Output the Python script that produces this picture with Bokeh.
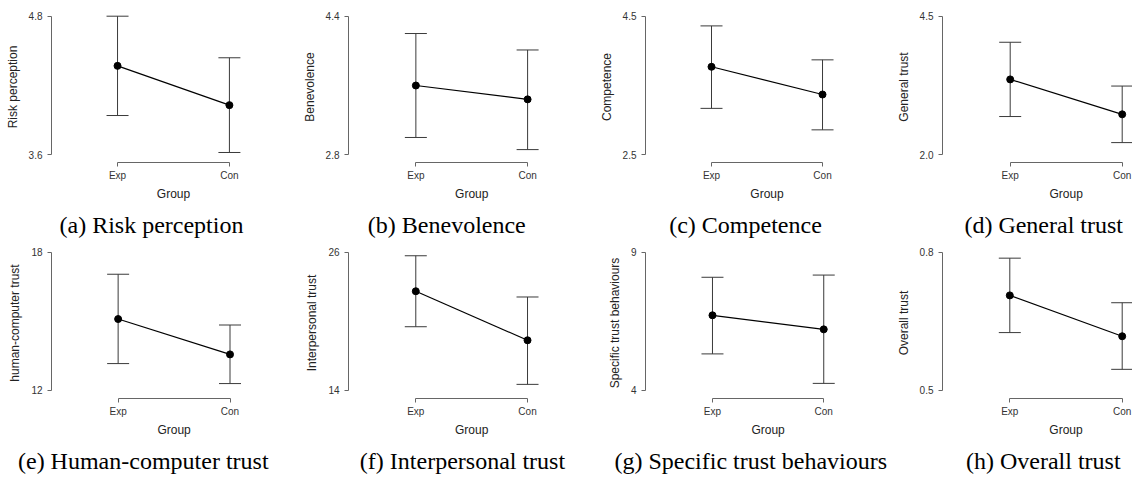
from bokeh.plotting import figure
from bokeh.layouts import gridplot
from bokeh.models import (ColumnDataSource, Whisker, TeeHead, FixedTicker,
                          Range1d, LinearAxis)
from bokeh.embed import file_html
from bokeh.resources import INLINE

# ---------------- data ----------------
groups = ["Exp", "Con"]
x_title = "Group"
measures = ["Risk perception", "Benevolence", "Competence", "General trust",
            "human-computer trust", "Interpersonal trust",
            "Specific trust behaviours", "Overall trust"]
captions = ["(a) Risk perception", "(b) Benevolence", "(c) Competence",
            "(d) General trust", "(e) Human-computer trust",
            "(f) Interpersonal trust", "(g) Specific trust behaviours",
            "(h) Overall trust"]
axis_min = [3.6, 2.8, 2.5, 2.0, 12, 14, 4, 0.5]
axis_max = [4.8, 4.4, 4.5, 4.5, 18, 26, 9, 0.8]
y_tick_labels = [["3.6", "4.8"], ["2.8", "4.4"], ["2.5", "4.5"], ["2.0", "4.5"],
                 ["12", "18"], ["14", "26"], ["4", "9"], ["0.5", "0.8"]]
mean_exp = [4.37, 3.60, 3.77, 3.36, 15.09, 22.60, 6.71, 0.706]
mean_con = [4.03, 3.44, 3.37, 2.73, 13.55, 18.33, 6.20, 0.617]
upper_exp = [4.80, 4.20, 4.36, 4.03, 17.04, 25.69, 8.09, 0.787]
lower_exp = [3.94, 3.00, 3.17, 2.69, 13.15, 19.51, 5.31, 0.625]
upper_con = [4.44, 4.01, 3.87, 3.24, 14.83, 22.10, 8.17, 0.690]
lower_con = [3.62, 2.86, 2.86, 2.22, 12.28, 14.49, 4.24, 0.545]

# ---------------- layout (pixels, local to each figure) ----------------
col_widths = [283, 283, 327, 239]
row_heights = [240, 236]
axis_px = [51, 65, 79, 49, 49, 62, 70, 49]
exp_px = [117.7, 132.7, 146.0, 116.7, 116.3, 130.3, 140.0, 116.3]
con_px = [230.7, 245.0, 258.7, 228.7, 229.3, 243.7, 256.3, 228.7]
caption_center_px = [152, 163.8, 180.5, 150.2, 141.7, 180.5, 180.0, 149.8]
# frame top, tick top, tick bottom, frame bottom
row_geom = [(11, 15.7, 154.3, 162), (7, 11.7, 149.5, 158)]
caption_standoff = [8, 8]
group_standoff = 3

AX_COL = "#666666"
BAR_COL = "#3a3a3a"
SANS = "Liberation Sans"
SERIF = "Liberation Serif"

figs = []
for i in range(8):
    r, c = divmod(i, 4)
    W = col_widths[c]
    H = row_heights[r]
    ft, tt, tb, fb = row_geom[r]
    L = axis_px[i]
    R = min(round(con_px[i] + 22), W)
    ppx = con_px[i] - exp_px[i]
    xs = -(exp_px[i] - L) / ppx
    xe = (len(groups) - 1) + (R - con_px[i]) / ppx
    lo, hi = axis_min[i], axis_max[i]
    ppy = (tb - tt) / (hi - lo)
    ys = lo - (fb - tb) / ppy
    ye = hi + (tt - ft) / ppy

    p = figure(width=W, height=H,
               x_range=Range1d(xs, xe), y_range=Range1d(ys, ye),
               min_border_left=L, min_border_right=W - R,
               min_border_top=ft, min_border_bottom=H - fb,
               output_backend="svg", toolbar_location=None)
    p.outline_line_color = None
    p.xgrid.visible = False
    p.ygrid.visible = False
    p.background_fill_color = "white"
    p.border_fill_color = "white"

    xs_idx = list(range(len(groups)))
    src = ColumnDataSource(dict(
        x=xs_idx,
        mean=[mean_exp[i], mean_con[i]],
        upper=[upper_exp[i], upper_con[i]],
        lower=[lower_exp[i], lower_con[i]],
    ))

    w = Whisker(source=src, base="x", upper="upper", lower="lower",
                line_color=BAR_COL, line_width=1,
                upper_head=TeeHead(size=22, line_color=BAR_COL, line_width=1),
                lower_head=TeeHead(size=22, line_color=BAR_COL, line_width=1))
    p.add_layout(w)
    p.line("x", "mean", source=src, line_color="black", line_width=1.2)
    p.scatter("x", "mean", source=src, size=7, fill_color="black",
              line_color="black")

    # main axes
    xa = p.xaxis[0]
    xa.bounds = (0, len(groups) - 1)
    xa.ticker = FixedTicker(ticks=xs_idx)
    xa.major_label_overrides = {k: g for k, g in zip(xs_idx, groups)}
    xa.major_label_standoff = 3

    ya = p.yaxis[0]
    ya.bounds = (lo, hi)
    ya.ticker = FixedTicker(ticks=[lo, hi])
    ya.major_label_overrides = {lo: y_tick_labels[i][0], hi: y_tick_labels[i][1]}
    ya.axis_label = measures[i]
    ya.major_label_standoff = 5
    ya.axis_label_standoff = 6
    ya.axis_label_text_font = SANS
    ya.axis_label_text_font_size = "12px"
    ya.axis_label_text_font_style = "normal"
    ya.axis_label_text_color = "#222222"

    for ax in (xa, ya):
        ax.axis_line_color = AX_COL
        ax.axis_line_width = 1
        ax.major_tick_line_color = AX_COL
        ax.major_tick_out = 4
        ax.major_tick_in = 0
        ax.minor_tick_line_color = None
        ax.major_label_text_font = SANS
        ax.major_label_text_font_size = "10px"
        ax.major_label_text_color = "#333333"

    # x-axis title, centred on the two groups
    mid = (len(groups) - 1) / 2
    ga = LinearAxis(ticker=FixedTicker(ticks=[mid]),
                    major_label_overrides={mid: x_title},
                    axis_line_color=None, major_tick_line_color=None,
                    minor_tick_line_color=None, major_tick_out=0,
                    major_tick_in=0, major_label_standoff=group_standoff,
                    major_label_text_font=SANS,
                    major_label_text_font_size="12px",
                    major_label_text_color="#222222")
    p.add_layout(ga, "below")

    # sub-figure caption
    cpos = round((caption_center_px[i] - exp_px[i]) / ppx, 4)
    ca = LinearAxis(ticker=FixedTicker(ticks=[cpos]),
                    major_label_overrides={cpos: captions[i]},
                    axis_line_color=None, major_tick_line_color=None,
                    minor_tick_line_color=None, major_tick_out=0,
                    major_tick_in=0, major_label_standoff=caption_standoff[r],
                    major_label_text_font=SERIF,
                    major_label_text_font_size="24px",
                    major_label_text_color="black")
    p.add_layout(ca, "below")
    figs.append(p)

grid = gridplot([figs[0:4], figs[4:8]], toolbar_location=None)

open("out.html", "w").write(file_html(grid, INLINE))
